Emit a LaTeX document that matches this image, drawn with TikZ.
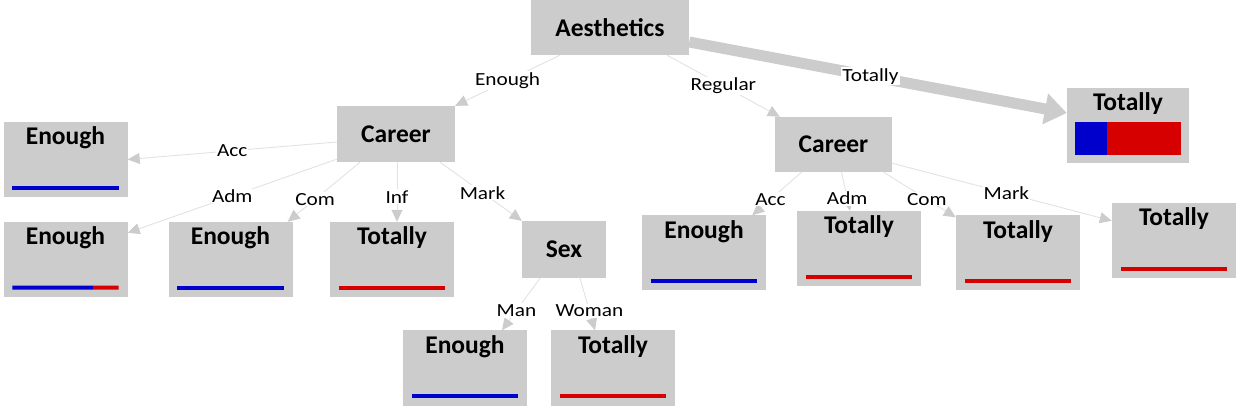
\documentclass[tikz,border=0pt]{standalone}
\usepackage{fontspec}
\setmainfont{Carlito}
\newfontfamily\lblfont{Carlito}[FakeStretch=1.15]
\usetikzlibrary{arrows.meta, calc}
\definecolor{barblue}{RGB}{0,0,204}
\definecolor{barred}{RGB}{214,0,0}
\definecolor{boxgray}{RGB}{204,204,204}
\definecolor{edgegray}{RGB}{226,226,226}

\begin{document}
\begin{tikzpicture}[x=1pt, y=-1pt,
    split/.style={fill=boxgray, rectangle, align=center, inner sep=0pt,
                  font=\bfseries\fontsize{25.5}{30}\selectfont},
    leaf/.style={fill=boxgray, rectangle, minimum width=124pt,
                 inner xsep=0pt, inner ysep=4pt, text height=19pt, text depth=48pt,
                 font=\bfseries\fontsize{25.5}{30}\selectfont},
    edge/.style={draw=edgegray, line width=0.9pt,
                 -{Triangle[length=12pt, width=11pt, color=boxgray, fill=boxgray]}},
    bigedge/.style={draw=boxgray, line width=11pt,
                    -{Triangle[length=22pt, width=30pt, fill=boxgray]}},
    lbl/.style={font=\lblfont\fontsize{18.5}{22}\selectfont, fill=white, inner sep=1pt},
    bar/.style={line width=4pt}
  ]
    \useasboundingbox (0,0) rectangle (1252,411);

    % split nodes
    \node[split, minimum width=158pt, minimum height=55pt] (root) at (610,27.5)   {Aesthetics};
    \node[split, minimum width=118pt, minimum height=56pt] (carL) at (396,134)    {Career};
    \node[split, minimum width=117pt, minimum height=55pt] (carR) at (833.5,144.5) {Career};
    \node[split, minimum width=84pt,  minimum height=57pt] (sex)  at (564,249.5)  {Sex};

    % leaves
    \node[leaf, minimum width=122pt] (topT) at (1128,125.5) {Totally};
    \node[leaf] (accL)  at (65.5,159.5)  {Enough};
    \node[leaf] (admL)  at (65.5,259.5)  {Enough};
    \node[leaf] (comL)  at (230.5,259.5) {Enough};
    \node[leaf] (infL)  at (392,259.5)   {Totally};
    \node[leaf] (man)   at (465,368)     {Enough};
    \node[leaf] (woman) at (613,368)     {Totally};
    \node[leaf] (accR)  at (704,253)     {Enough};
    \node[leaf] (admR)  at (859,248.5)   {Totally};
    \node[leaf] (comR)  at (1018,253)    {Totally};
    \node[leaf] (markR) at (1174,240.5)  {Totally};

    % bars
    \foreach \n/\f in {accL/1, admL/0.76, comL/1, infL/0, man/1, woman/0,
                       accR/1, admR/0, comR/0, markR/0} {
      \coordinate (l) at ([xshift=9pt, yshift=9.5pt]\n.south west);
      \coordinate (r) at ([xshift=-9pt, yshift=9.5pt]\n.south east);
      \draw[bar, barblue] (l) -- ($(l)!\f!(r)$);
      \draw[bar, barred] ($(l)!\f!(r)$) -- (r);
    }
    \fill[barblue] ([xshift=8pt, yshift=8pt]topT.south west) rectangle ([xshift=40pt, yshift=41pt]topT.south west);
    \fill[barred]  ([xshift=40pt, yshift=8pt]topT.south west) rectangle ([xshift=-8pt, yshift=41pt]topT.south east);

    % edges
    \draw[bigedge] ([yshift=-14.5pt]root.east) -- node[lbl, pos=0.48] {Totally} ([yshift=12.5pt]topT.west);
    \draw[edge] ([xshift=-50pt]root.south) -- node[lbl] {Enough} (carL.north east);
    \draw[edge] ([xshift=57pt]root.south) -- node[lbl] {Regular} ([xshift=5pt]carR.north west);

    \draw[edge] ([yshift=-8pt]carL.west) -- node[lbl] {Acc} (accL.east);
    \draw[edge] ([yshift=3pt]carL.south west) -- node[lbl] {Adm} ([yshift=-11pt]admL.north east);
    \draw[edge] ([xshift=-36pt]carL.south) -- node[lbl, pos=0.62] {Com} ([xshift=-5pt]comL.north east);
    \draw[edge] ([xshift=1pt]carL.south) -- node[lbl, pos=0.58] {Inf} ([xshift=5pt]infL.north);
    \draw[edge] ([xshift=44pt]carL.south) -- node[lbl, pos=0.52] {Mark} (sex.north west);

    \draw[edge] ([xshift=-32pt]carR.south) -- node[lbl, pos=0.63] {Acc} ([xshift=-14pt]accR.north east);
    \draw[edge] ([xshift=8pt]carR.south) -- node[lbl, pos=0.67] {Adm} ([xshift=-9pt]admR.north);
    \draw[edge] ([xshift=50pt]carR.south) -- node[lbl, pos=0.6] {Com} ([yshift=-2pt]comR.north west);
    \draw[edge] ([yshift=9pt]carR.south east) -- node[lbl, pos=0.52] {Mark} ([yshift=-18pt]markR.north west);

    \draw[edge] ([xshift=-24pt]sex.south) -- node[lbl, pos=0.62] {Man} ([xshift=37pt]man.north);
    \draw[edge] ([xshift=16pt]sex.south) -- node[lbl, pos=0.63] {Woman} ([xshift=-18pt]woman.north);
  \end{tikzpicture}
\end{document}
